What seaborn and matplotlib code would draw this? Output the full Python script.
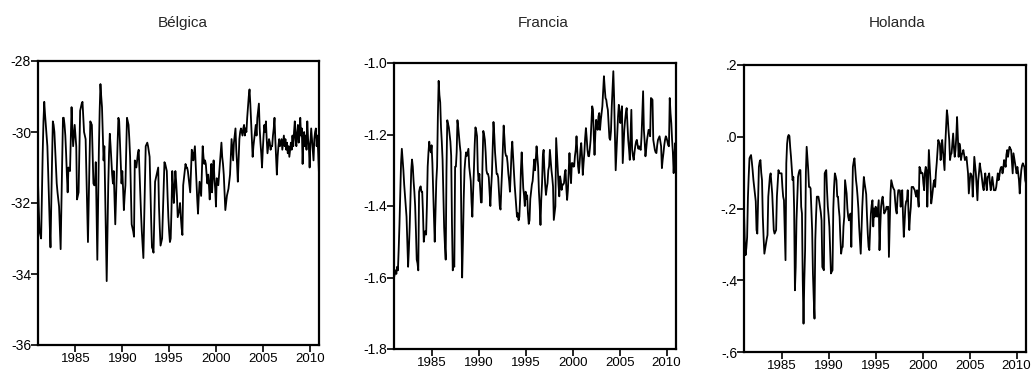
import numpy as np
import pandas as pd
import seaborn as sns
import matplotlib.pyplot as plt

# monthly series, 1981M01 - 2011M01
start_year = 1981

belgica = [
    -31.4, -32.2, -32.8, -32.9, -33.0, -31.8, -30.6, -29.7, -29.15, -29.5, -29.8, -30.1,
    -30.4, -31.1, -31.9, -32.6, -33.25, -32.0, -30.8, -29.7, -29.8, -30.0, -30.5, -31.0,
    -31.45, -31.7, -31.9, -32.1, -32.7, -33.3, -32.0, -30.8, -29.6, -29.6, -29.8, -30.1,
    -30.6, -31.2, -31.7, -31.0, -31.05, -31.1, -30.2, -29.3, -29.9, -30.4, -30.1, -29.8,
    -30.1, -30.4, -31.9, -31.8, -31.7, -30.5, -29.4, -29.3, -29.2, -29.15, -29.6, -30.0,
    -30.1, -30.2, -31.2, -32.2, -33.1, -31.9, -30.8, -29.7, -29.75, -29.8, -30.6, -31.45,
    -31.5, -31.5, -30.85, -32.2, -33.6, -32.0, -30.5, -29.4, -28.65, -29.0, -29.3, -30.1,
    -30.8, -30.4, -31.7, -33.0, -34.2, -32.8, -31.5, -30.6, -30.05, -30.4, -30.8, -31.2,
    -31.45, -31.1, -31.9, -32.6, -31.8, -31.0, -30.3, -29.6, -29.7, -30.3, -30.9, -31.45,
    -31.1, -31.6, -32.2, -31.8, -31.5, -30.5, -29.6, -29.7, -29.8, -30.2, -30.7, -31.6,
    -32.6, -32.7, -32.8, -32.95, -30.8, -30.9, -31.0, -30.8, -30.6, -30.5, -31.1, -31.7,
    -32.3, -32.8, -33.2, -33.55, -32.5, -31.4, -30.4, -30.35, -30.3, -30.4, -30.55, -30.7,
    -31.6, -32.5, -33.25, -33.3, -33.4, -32.4, -31.4, -31.3, -31.2, -31.1, -31.0, -32.1,
    -32.7, -33.2, -33.1, -33.0, -32.3, -31.6, -30.85, -30.9, -31.0, -31.1, -31.8, -32.4,
    -32.8, -33.1, -33.0, -32.2, -31.1, -31.5, -32.0, -31.6, -31.1, -31.4, -31.8, -32.4,
    -32.3, -32.2, -32.0, -32.4, -32.7, -32.9, -31.5, -31.3, -31.1, -30.9, -31.0, -31.0,
    -31.1, -31.3, -31.5, -31.7, -31.1, -30.5, -30.6, -30.8, -30.6, -30.4, -30.9, -31.4,
    -31.9, -32.3, -31.8, -31.4, -31.6, -31.8, -31.1, -30.4, -30.7, -30.9, -30.8, -30.9,
    -31.2, -31.45, -31.2, -31.5, -31.9, -31.3, -30.9, -31.7, -31.2, -30.8, -31.3, -31.6,
    -32.1, -31.3, -31.4, -31.5, -31.2, -30.9, -30.6, -30.3, -30.7, -30.9, -31.2, -31.7,
    -32.2, -32.0, -31.8, -31.7, -31.6, -31.4, -31.2, -30.7, -30.2, -30.5, -30.8, -30.3,
    -30.1, -29.9, -30.5, -30.9, -31.4, -30.8, -30.2, -30.0, -29.9, -30.0, -30.1, -29.9,
    -29.8, -30.1, -29.9, -30.0, -29.6, -29.3, -29.0, -28.8, -29.2, -29.7, -30.2, -30.7,
    -30.4, -30.2, -30.0, -29.8, -30.1, -29.6, -29.4, -29.2, -29.9, -30.3, -30.6, -31.0,
    -30.5, -30.1, -29.8, -30.0, -29.7, -30.2, -30.6, -30.4, -30.2, -30.3, -30.5, -30.4,
    -30.4, -30.1, -29.9, -29.6, -30.2, -30.7, -31.2, -30.7, -30.4, -30.2, -30.4, -30.3,
    -30.2, -30.5, -30.3, -30.1, -30.4, -30.2, -30.5, -30.3, -30.6, -30.4, -30.7, -30.5,
    -30.3, -30.5, -30.1, -30.4, -30.0, -29.7, -30.2, -30.4, -30.0, -29.8, -30.3, -30.1,
    -29.6, -30.1, -29.9, -30.9, -30.2, -30.0, -30.4, -30.1, -30.5, -29.7, -30.2, -30.4,
    -31.0, -30.3, -29.9, -30.2, -30.5, -30.8, -30.2, -30.0, -29.9, -30.4, -30.1, -30.6,
    -31.2,
]

francia = [
    -1.60, -1.59, -1.58, -1.59, -1.57, -1.58, -1.52, -1.45, -1.36, -1.28, -1.24, -1.27,
    -1.30, -1.34, -1.37, -1.40, -1.43, -1.50, -1.57, -1.52, -1.46, -1.38, -1.30, -1.27,
    -1.29, -1.33, -1.36, -1.40, -1.47, -1.55, -1.56, -1.58, -1.36, -1.35, -1.345, -1.36,
    -1.36, -1.42, -1.50, -1.48, -1.47, -1.48, -1.40, -1.29, -1.25, -1.22, -1.24, -1.25,
    -1.23, -1.28, -1.36, -1.43, -1.50, -1.42, -1.33, -1.29, -1.15, -1.05, -1.09, -1.11,
    -1.18, -1.22, -1.27, -1.37, -1.46, -1.51, -1.55, -1.30, -1.16, -1.17, -1.18, -1.20,
    -1.22, -1.26, -1.45, -1.58, -1.56, -1.57, -1.29, -1.29, -1.25, -1.16, -1.18, -1.205,
    -1.23, -1.25, -1.45, -1.60, -1.50, -1.38, -1.30, -1.27, -1.25, -1.26, -1.25, -1.24,
    -1.29, -1.31, -1.33, -1.39, -1.43, -1.36, -1.30, -1.23, -1.18, -1.19, -1.205, -1.30,
    -1.33, -1.31, -1.35, -1.39, -1.39, -1.28, -1.19, -1.20, -1.215, -1.25, -1.30, -1.31,
    -1.31, -1.32, -1.36, -1.40, -1.35, -1.31, -1.24, -1.165, -1.20, -1.25, -1.28, -1.31,
    -1.31, -1.32, -1.36, -1.40, -1.41, -1.35, -1.30, -1.24, -1.175, -1.21, -1.25, -1.26,
    -1.26, -1.28, -1.31, -1.33, -1.36, -1.31, -1.25, -1.22, -1.26, -1.30, -1.34, -1.37,
    -1.40, -1.43, -1.42, -1.44, -1.43, -1.38, -1.30, -1.25, -1.30, -1.35, -1.37, -1.40,
    -1.36, -1.38, -1.37, -1.42, -1.45, -1.44, -1.38, -1.36, -1.34, -1.33, -1.30, -1.27,
    -1.30, -1.27, -1.233, -1.26, -1.29, -1.36, -1.40, -1.453, -1.38, -1.336, -1.26, -1.243,
    -1.30, -1.34, -1.369, -1.35, -1.336, -1.30, -1.289, -1.243, -1.27, -1.30, -1.32, -1.345,
    -1.439, -1.42, -1.401, -1.21, -1.25, -1.294, -1.34, -1.373, -1.317, -1.33, -1.355, -1.34,
    -1.34, -1.336, -1.31, -1.299, -1.35, -1.383, -1.355, -1.30, -1.252, -1.30, -1.336, -1.28,
    -1.28, -1.29, -1.289, -1.26, -1.243, -1.205, -1.25, -1.289, -1.308, -1.28, -1.243, -1.224,
    -1.26, -1.313, -1.28, -1.252, -1.21, -1.182, -1.21, -1.243, -1.26, -1.261, -1.24, -1.215,
    -1.17, -1.121, -1.13, -1.20, -1.257, -1.20, -1.159, -1.17, -1.187, -1.15, -1.14, -1.187,
    -1.16, -1.14, -1.121, -1.08, -1.037, -1.07, -1.098, -1.103, -1.12, -1.131, -1.17, -1.21,
    -1.215, -1.19, -1.121, -1.07, -1.023, -1.098, -1.20, -1.30, -1.25, -1.205, -1.15, -1.117,
    -1.14, -1.168, -1.14, -1.121, -1.28, -1.23, -1.187, -1.16, -1.14, -1.126, -1.17, -1.215,
    -1.24, -1.271, -1.20, -1.131, -1.243, -1.26, -1.271, -1.25, -1.233, -1.22, -1.215, -1.23,
    -1.24, -1.233, -1.24, -1.243, -1.205, -1.14, -1.079, -1.187, -1.22, -1.261, -1.24, -1.215,
    -1.20, -1.187, -1.19, -1.205, -1.098, -1.10, -1.103, -1.215, -1.23, -1.243, -1.25, -1.252,
    -1.23, -1.215, -1.21, -1.205, -1.22, -1.233, -1.294, -1.27, -1.252, -1.23, -1.215, -1.205,
    -1.21, -1.219, -1.23, -1.233, -1.098, -1.14, -1.168, -1.215, -1.25, -1.308, -1.26, -1.224,
    -1.271,
]

holanda = [
    -0.21, -0.29, -0.33, -0.31, -0.28, -0.17, -0.11, -0.06, -0.055, -0.051, -0.07, -0.093,
    -0.12, -0.14, -0.16, -0.18, -0.26, -0.27, -0.17, -0.084, -0.07, -0.065, -0.10, -0.121,
    -0.223, -0.28, -0.326, -0.312, -0.30, -0.285, -0.274, -0.167, -0.14, -0.112, -0.102, -0.13,
    -0.158, -0.21, -0.26, -0.27, -0.265, -0.26, -0.167, -0.13, -0.093, -0.10, -0.102, -0.102,
    -0.102, -0.14, -0.167, -0.177, -0.26, -0.344, -0.074, -0.02, 0.0, 0.005, 0.002, -0.03,
    -0.056, -0.09, -0.121, -0.112, -0.20, -0.428, -0.363, -0.233, -0.17, -0.112, -0.10, -0.093,
    -0.093, -0.195, -0.214, -0.40, -0.521, -0.40, -0.316, -0.10, -0.028, -0.06, -0.093, -0.14,
    -0.14, -0.144, -0.20, -0.26, -0.381, -0.45, -0.507, -0.288, -0.22, -0.167, -0.167, -0.167,
    -0.18, -0.195, -0.21, -0.233, -0.363, -0.368, -0.372, -0.102, -0.097, -0.093, -0.15, -0.195,
    -0.22, -0.251, -0.32, -0.381, -0.376, -0.372, -0.20, -0.14, -0.102, -0.11, -0.121, -0.167,
    -0.167, -0.20, -0.223, -0.28, -0.326, -0.31, -0.307, -0.25, -0.223, -0.121, -0.14, -0.158,
    -0.20, -0.223, -0.233, -0.22, -0.214, -0.307, -0.20, -0.084, -0.07, -0.06, -0.09, -0.121,
    -0.14, -0.167, -0.20, -0.251, -0.29, -0.326, -0.26, -0.195, -0.15, -0.112, -0.13, -0.145,
    -0.16, -0.22, -0.27, -0.307, -0.316, -0.26, -0.214, -0.19, -0.177, -0.25, -0.20, -0.223,
    -0.195, -0.20, -0.223, -0.20, -0.177, -0.316, -0.25, -0.195, -0.177, -0.167, -0.19, -0.214,
    -0.21, -0.205, -0.195, -0.20, -0.195, -0.335, -0.24, -0.158, -0.121, -0.13, -0.14, -0.145,
    -0.149, -0.18, -0.205, -0.214, -0.17, -0.149, -0.149, -0.15, -0.195, -0.17, -0.149, -0.22,
    -0.279, -0.24, -0.195, -0.18, -0.177, -0.149, -0.21, -0.26, -0.22, -0.195, -0.14, -0.14,
    -0.14, -0.145, -0.149, -0.16, -0.167, -0.149, -0.17, -0.195, -0.084, -0.09, -0.102, -0.10,
    -0.102, -0.13, -0.149, -0.10, -0.084, -0.093, -0.195, -0.12, -0.037, -0.08, -0.121, -0.186,
    -0.17, -0.149, -0.13, -0.121, -0.14, -0.10, -0.074, -0.04, -0.009, -0.015, -0.019, -0.065,
    -0.04, -0.009, -0.04, -0.065, -0.093, -0.02, 0.03, 0.074, 0.056, 0.02, -0.009, -0.065,
    -0.05, -0.046, -0.02, 0.009, -0.03, -0.056, -0.037, 0.0, 0.055, 0.0, -0.056, -0.019,
    -0.03, -0.065, -0.05, -0.046, -0.037, -0.05, -0.065, -0.06, -0.056, -0.08, -0.102, -0.158,
    -0.13, -0.102, -0.105, -0.112, -0.167, -0.11, -0.056, -0.08, -0.102, -0.14, -0.177, -0.121,
    -0.10, -0.074, -0.09, -0.102, -0.12, -0.14, -0.149, -0.12, -0.102, -0.13, -0.149, -0.112,
    -0.11, -0.102, -0.13, -0.149, -0.13, -0.112, -0.13, -0.149, -0.149, -0.149, -0.14, -0.12,
    -0.102, -0.121, -0.11, -0.093, -0.085, -0.084, -0.102, -0.09, -0.065, -0.07, -0.084, -0.05,
    -0.037, -0.056, -0.04, -0.028, -0.033, -0.037, -0.07, -0.102, -0.046, -0.06, -0.074, -0.09,
    -0.102, -0.084, -0.10, -0.121, -0.158, -0.12, -0.093, -0.08, -0.074, -0.08, -0.084, -0.121,
    -0.13,
]

titles = ["Bélgica", "Francia", "Holanda"]
x_ticks = [1985, 1990, 1995, 2000, 2005, 2010]
y_ticks = [
    [-36, -34, -32, -30, -28],
    [-1.8, -1.6, -1.4, -1.2, -1.0],
    [-0.6, -0.4, -0.2, 0.0, 0.2],
]
y_labels = [
    ["-36", "-34", "-32", "-30", "-28"],
    ["-1.8", "-1.6", "-1.4", "-1.2", "-1.0"],
    ["-.6", "-.4", "-.2", ".0", ".2"],
]

sns.set_style("ticks")
plt.rcParams['font.family'] = ['Liberation Sans Narrow', 'Liberation Sans', 'DejaVu Sans']

fig = plt.figure(figsize=(10.31, 3.76), dpi=100)

# axes boxes measured in pixels: left, top, right, bottom
boxes = [(38, 61, 319, 345), (394, 63, 676, 349), (744, 65, 1026, 352)]
title_x = [183, 543, 897]
W, H = 1031, 376

for i, series in enumerate([belgica, francia, holanda]):
    l, t, r, b = boxes[i]
    ax = fig.add_axes([l / W, 1 - b / H, (r - l) / W, (b - t) / H])
    n = len(series)
    df = pd.DataFrame({"fecha": start_year + np.arange(n) / 12.0, "valor": series})
    sns.lineplot(data=df, x="fecha", y="valor", ax=ax, color="black", linewidth=1.3)
    ax.set_xlim(df["fecha"].iloc[0], df["fecha"].iloc[-1])
    ax.set_ylim(y_ticks[i][0], y_ticks[i][-1])
    ax.set_xticks(x_ticks)
    ax.set_xticklabels([str(y) for y in x_ticks])
    ax.set_yticks(y_ticks[i])
    ax.set_yticklabels(y_labels[i])
    ax.set_xlabel("")
    ax.set_ylabel("")
    for s in ax.spines.values():
        s.set_visible(True)
        s.set_linewidth(1.6)
        s.set_color("black")
    ax.tick_params(axis="y", direction="out", length=5, width=1.2,
                   labelsize=10, pad=0, colors="black")
    ax.tick_params(axis="x", direction="out", length=5, width=1.2,
                   labelsize=9.5, pad=1, colors="black")
    fig.text(title_x[i] / W, 1 - 23 / H, titles[i], ha="center", va="center", fontsize=11)

fig.savefig("out.png", dpi=100)
